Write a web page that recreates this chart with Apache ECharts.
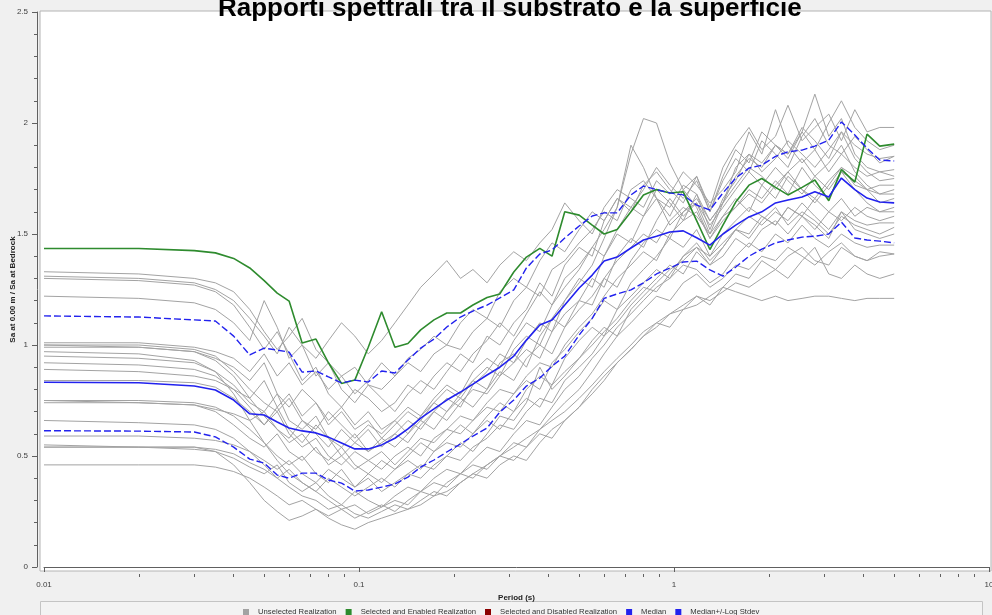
<!DOCTYPE html>
<html><head><meta charset="utf-8">
<script src="https://cdn.jsdelivr.net/npm/echarts@6/dist/echarts.min.js"></script>
<style>html,body{margin:0;padding:0;background:#f0f0f0}#c{width:992px;height:615px}</style>
</head><body><div id="c"></div><script>
const periods = [0.01,0.02,0.03,0.035,0.04,0.045,0.05,0.055,0.06,0.066,0.073,0.08,0.088,0.097,0.107,0.118,0.13,0.143,0.157,0.173,0.19,0.21,0.23,0.255,0.28,0.31,0.34,0.375,0.41,0.45,0.5,0.55,0.6,0.66,0.73,0.8,0.88,0.97,1.07,1.18,1.3,1.43,1.57,1.73,1.9,2.1,2.3,2.55,2.8,3.1,3.4,3.75,4.1,4.5,5.0];

const selectedEnabled = [1.435,1.435,1.425,1.415,1.39, 1.347,1.29,1.234,1.198,1.009, 1.027,0.92,0.827,0.842,0.99, 1.15,0.99,1.007,1.068,1.113, 1.144,1.144,1.18,1.214,1.23, 1.329,1.396,1.435,1.40,1.60, 1.585,1.54,1.50,1.52,1.60, 1.676,1.70,1.685,1.69,1.56, 1.43,1.54,1.644,1.72,1.75, 1.71,1.676,1.71,1.743,1.65, 1.79,1.734,1.95,1.896,1.905];
const median = [0.832,0.83,0.815,0.797,0.752, 0.69,0.685,0.653,0.626,0.613, 0.604,0.585,0.559,0.532,0.532, 0.55,0.58,0.622,0.671,0.712, 0.752,0.788,0.824,0.865,0.90, 0.95,1.022,1.09,1.113,1.18, 1.257,1.315,1.378,1.396,1.437, 1.473,1.49,1.509,1.514,1.483, 1.45,1.50,1.54,1.577,1.60, 1.64,1.653,1.667,1.69,1.667, 1.752,1.70,1.662,1.644,1.64];
const medianPlusStdev = [1.131,1.126,1.113,1.108,1.04, 0.955,0.986,0.977,0.968,0.878, 0.883,0.856,0.829,0.842,0.833, 0.883,0.874,0.932,0.986,1.027, 1.081,1.126,1.153,1.18,1.212, 1.248,1.347,1.41,1.428,1.482, 1.536,1.581,1.595,1.595,1.676, 1.716,1.70,1.685,1.676,1.63, 1.608,1.685,1.752,1.797,1.81, 1.85,1.87,1.878,1.896,1.923, 2.005,1.946,1.887,1.833,1.829];
const medianMinusStdev = [0.614,0.612,0.608,0.586,0.54, 0.486,0.468,0.414,0.40,0.423, 0.423,0.392,0.378,0.342,0.347, 0.36,0.374,0.405,0.45,0.482, 0.518,0.554,0.59,0.626,0.698, 0.752,0.815,0.851,0.905,0.95, 1.045,1.12,1.21,1.23,1.248, 1.28,1.32,1.347,1.374,1.378, 1.338,1.31,1.351,1.40,1.432, 1.46,1.473,1.486,1.49,1.50, 1.554,1.482,1.473,1.468,1.46];

const g01 = [1.33,1.32,1.30,1.28,1.24, 1.16,1.06,0.98,1.04,1.12, 0.98,0.92,0.86,0.90,0.82, 0.80,0.86,0.92,0.88,0.96, 1.00,0.98,1.06,1.12,1.08, 1.20,1.26,1.22,1.34,1.38, 1.46,1.52,1.60,1.56,1.70, 1.74,1.66,1.62,1.72,1.68, 1.56,1.64,1.80,1.86,1.78, 1.84,1.92,1.86,1.80,1.88, 1.96,1.84,1.78,1.74,1.75];
const g02 = [1.30,1.29,1.27,1.24,1.18, 1.08,0.98,1.06,0.96,0.84, 0.90,0.78,0.72,0.80,0.76, 0.70,0.74,0.82,0.78,0.86, 0.92,0.88,0.96,1.02,1.10, 1.04,1.14,1.24,1.18,1.30, 1.36,1.44,1.40,1.52,1.62, 1.58,1.66,1.54,1.60,1.64, 1.50,1.58,1.62,1.70,1.66, 1.74,1.68,1.80,1.72,1.66, 1.78,1.70,1.64,1.60,1.62];
const g03 = [1.22,1.21,1.19,1.16,1.10, 1.02,1.20,1.08,0.94,1.00, 0.86,0.92,0.80,0.74,0.82, 0.76,0.70,0.78,0.84,0.80, 0.88,0.96,0.92,1.04,1.00, 1.10,1.16,1.28,1.22,1.36, 1.44,1.40,1.56,1.66,1.60, 1.72,1.78,1.70,1.64,1.76, 1.60,1.74,1.84,1.78,1.92, 1.86,1.80,1.94,2.02,1.90, 1.86,1.94,1.88,1.82,1.85];
const g04 = [1.00,1.00,0.98,0.95,0.88, 0.80,0.74,0.70,0.76,0.66, 0.62,0.70,0.64,0.58,0.64, 0.60,0.66,0.72,0.68,0.76, 0.82,0.78,0.88,0.94,0.90, 1.02,1.10,1.06,1.18,1.26, 1.34,1.44,1.52,1.62,1.86, 2.02,2.00,1.82,1.70,1.62, 1.48,1.58,1.66,1.60,1.72, 1.80,1.74,1.68,1.76,1.82, 1.90,1.78,1.72,1.68,1.70];
const g05 = [1.00,0.99,0.97,0.93,0.86, 0.76,0.68,0.62,0.56,0.60, 0.52,0.48,0.54,0.46,0.42, 0.48,0.44,0.50,0.56,0.52, 0.58,0.64,0.60,0.68,0.74, 0.70,0.80,0.86,0.82,0.94, 1.02,1.08,1.04,1.16,1.22, 1.28,1.34,1.30,1.40,1.44, 1.36,1.40,1.48,1.44,1.52, 1.56,1.50,1.58,1.54,1.48, 1.60,1.52,1.50,1.48,1.50];
const g06 = [0.99,0.99,0.97,0.94,0.90, 0.84,0.92,0.78,0.72,0.80, 0.74,0.66,0.72,0.64,0.70, 0.62,0.66,0.60,0.68,0.74, 0.70,0.78,0.84,0.80,0.92, 0.96,0.90,1.04,1.12,1.08, 1.20,1.30,1.26,1.40,1.48, 1.44,1.56,1.66,1.58,1.64, 1.54,1.62,1.70,1.78,1.72, 1.66,1.76,1.70,1.64,1.72, 1.80,1.76,1.70,1.64,1.66];
const g07 = [0.97,0.96,0.93,0.88,0.78, 0.66,0.56,0.48,0.42,0.38, 0.34,0.30,0.26,0.28,0.24, 0.27,0.30,0.28,0.34,0.38, 0.36,0.42,0.46,0.44,0.50, 0.56,0.54,0.62,0.68,0.74, 0.80,0.88,0.96,1.04,1.10, 1.16,1.22,1.20,1.28,1.32, 1.26,1.30,1.36,1.34,1.40, 1.38,1.44,1.40,1.36,1.42, 1.46,1.40,1.38,1.42,1.41];
const g08 = [0.95,0.94,0.92,0.88,0.82, 0.74,0.70,0.78,0.66,0.62, 0.68,0.58,0.54,0.60,0.52, 0.56,0.60,0.56,0.64,0.70, 0.66,0.74,0.80,0.78,0.86, 0.92,0.98,0.94,1.06,1.14, 1.20,1.18,1.30,1.38,1.44, 1.50,1.46,1.56,1.62,1.58, 1.50,1.64,1.76,1.84,1.80, 1.90,1.86,1.96,2.13,1.94, 2.02,1.86,1.80,1.78,1.79];
const g09 = [0.92,0.91,0.89,0.86,0.80, 0.72,0.64,0.70,0.60,0.54, 0.58,0.50,0.46,0.52,0.48, 0.44,0.50,0.54,0.50,0.58, 0.62,0.60,0.66,0.72,0.70, 0.78,0.84,0.80,0.92,0.98, 1.06,1.12,1.20,1.16,1.28, 1.34,1.40,1.48,1.44,1.52, 1.40,1.50,1.56,1.62,1.58, 1.54,1.62,1.58,1.66,1.60, 1.56,1.62,1.58,1.56,1.58];
const g10 = [0.89,0.88,0.86,0.84,0.80, 0.76,0.84,0.72,0.78,0.68, 0.74,0.64,0.70,0.62,0.66, 0.58,0.64,0.70,0.66,0.74, 0.80,0.76,0.84,0.90,0.86, 0.98,1.04,1.00,1.12,1.20, 1.28,1.36,1.48,1.62,1.90, 1.80,1.66,1.58,1.70,1.76, 1.62,1.80,1.90,1.98,1.88, 1.94,2.08,1.92,1.98,2.04, 1.92,2.06,1.96,1.98,1.98];
const g11 = [0.75,0.75,0.74,0.72,0.68, 0.62,0.56,0.50,0.46,0.50, 0.42,0.38,0.44,0.36,0.40, 0.34,0.38,0.42,0.40,0.46, 0.50,0.48,0.54,0.58,0.64, 0.62,0.70,0.76,0.74,0.84, 0.90,0.96,1.04,1.10,1.18, 1.24,1.30,1.36,1.32,1.42, 1.36,1.44,1.52,1.48,1.56, 1.62,1.54,1.60,1.56,1.50, 1.58,1.54,1.52,1.50,1.53];
const g12 = [0.74,0.74,0.73,0.71,0.69, 0.66,0.70,0.62,0.58,0.66, 0.60,0.54,0.62,0.56,0.52, 0.58,0.54,0.60,0.66,0.62, 0.70,0.76,0.72,0.80,0.88, 0.84,0.94,1.00,0.96,1.08, 1.16,1.22,1.30,1.26,1.38, 1.46,1.52,1.48,1.60,1.66, 1.56,1.64,1.72,1.80,1.76, 1.70,1.78,1.84,1.76,1.70, 1.78,1.74,1.70,1.72,1.72];
const g13 = [0.66,0.65,0.64,0.62,0.58, 0.52,0.46,0.40,0.36,0.32, 0.30,0.26,0.28,0.24,0.22, 0.25,0.28,0.26,0.30,0.34, 0.32,0.38,0.42,0.40,0.46, 0.50,0.48,0.56,0.62,0.66, 0.72,0.78,0.84,0.92,0.98, 1.04,1.08,1.14,1.18,1.22, 1.20,1.24,1.28,1.26,1.30, 1.34,1.30,1.38,1.44,1.32, 1.30,1.36,1.32,1.30,1.32];
const g14 = [0.59,0.59,0.58,0.57,0.55, 0.52,0.48,0.44,0.48,0.42, 0.38,0.44,0.40,0.36,0.42, 0.38,0.44,0.48,0.44,0.52, 0.56,0.54,0.60,0.66,0.62, 0.70,0.76,0.72,0.82,0.88, 0.94,1.02,1.08,1.04,1.16, 1.22,1.28,1.34,1.38,1.44, 1.40,1.46,1.52,1.50,1.58, 1.54,1.62,1.58,1.52,1.60, 1.66,1.58,1.62,1.60,1.60];
const g15 = [0.55,0.54,0.54,0.52,0.46, 0.38,0.30,0.25,0.21,0.23, 0.26,0.22,0.19,0.17,0.20, 0.22,0.24,0.26,0.28,0.32, 0.34,0.38,0.42,0.46,0.50, 0.54,0.58,0.62,0.66,0.70, 0.76,0.82,0.88,0.94,1.00, 1.06,1.10,1.14,1.16,1.18, 1.22,1.26,1.24,1.22,1.20, 1.22,1.20,1.21,1.22,1.22, 1.21,1.20,1.21,1.21,1.21];
const g16 = [0.54,0.54,0.53,0.52,0.49, 0.45,0.42,0.46,0.38,0.34, 0.38,0.32,0.28,0.34,0.30, 0.27,0.32,0.36,0.34,0.40, 0.44,0.42,0.48,0.54,0.52, 0.60,0.66,0.64,0.72,0.80, 0.86,0.94,1.00,1.08,1.14, 1.20,1.26,1.30,1.36,1.34, 1.28,1.32,1.40,1.46,1.42, 1.50,1.46,1.54,1.48,1.44, 1.50,1.46,1.44,1.45,1.45];
const g17 = [0.46,0.46,0.46,0.45,0.43, 0.40,0.36,0.32,0.28,0.30, 0.26,0.23,0.26,0.22,0.25, 0.28,0.25,0.30,0.34,0.32, 0.38,0.42,0.40,0.46,0.50, 0.48,0.54,0.60,0.58,0.66, 0.72,0.80,0.86,0.92,0.98, 1.04,1.10,1.08,1.16,1.22, 1.18,1.26,1.32,1.30,1.38, 1.34,1.40,1.44,1.38,1.36, 1.44,1.40,1.38,1.40,1.41];
const g18 = [0.84,0.84,0.83,0.81,0.76, 0.70,0.64,0.72,0.62,0.56, 0.64,0.58,0.50,0.56,0.62, 0.54,0.60,0.66,0.62,0.70, 0.76,0.72,0.82,0.88,0.96, 0.92,1.02,1.10,1.06,1.20, 1.30,1.26,1.40,1.50,1.46, 1.58,1.70,1.64,1.56,1.68, 1.52,1.66,1.74,1.86,1.82, 1.90,1.86,1.98,1.92,1.84, 1.96,1.90,1.86,1.84,1.85];
const g19 = [1.01,1.01,0.99,0.97,0.94, 0.88,0.96,0.86,0.92,0.82, 0.88,0.80,0.86,0.78,0.84, 0.92,0.86,0.94,0.98,1.04, 1.00,1.10,1.16,1.12,1.24, 1.30,1.26,1.38,1.46,1.42, 1.52,1.60,1.56,1.66,1.62, 1.70,1.80,1.72,1.66,1.74, 1.60,1.76,1.88,1.82,1.96, 1.90,1.84,1.96,1.88,2.00, 2.10,1.98,1.92,1.88,1.90];
const g20 = [0.75,0.74,0.73,0.70,0.64, 0.58,0.54,0.60,0.52,0.48, 0.54,0.46,0.50,0.44,0.48, 0.52,0.46,0.52,0.58,0.56, 0.62,0.68,0.66,0.74,0.80, 0.78,0.86,0.92,0.90,1.00, 1.08,1.14,1.22,1.30,1.36, 1.42,1.38,1.50,1.56,1.60, 1.48,1.56,1.62,1.68,1.64, 1.72,1.78,1.70,1.66,1.74, 1.80,1.72,1.70,1.68,1.68];
const g21 = [0.54,0.54,0.54,0.53,0.51, 0.47,0.44,0.40,0.44,0.38, 0.34,0.40,0.36,0.32,0.36, 0.40,0.36,0.42,0.46,0.44, 0.50,0.56,0.52,0.60,0.68, 0.66,0.74,0.90,0.80,0.86, 0.94,1.00,1.06,1.12,1.20, 1.26,1.24,1.32,1.40,1.46, 1.38,1.44,1.52,1.58,1.54, 1.60,1.56,1.64,1.58,1.52, 1.60,1.56,1.54,1.55,1.55];
const g22 = [1.31,1.30,1.28,1.25,1.20, 1.12,1.04,0.96,1.08,1.00, 0.94,1.02,1.10,1.04,0.96, 1.02,1.10,1.18,1.26,1.32, 1.38,1.30,1.34,1.28,1.36, 1.42,1.38,1.46,1.52,1.64, 1.56,1.50,1.62,1.70,1.66, 1.62,1.74,1.68,1.78,1.72, 1.64,1.70,1.78,1.96,1.86, 2.06,1.90,1.82,1.88,1.78, 1.86,1.80,1.76,1.78,1.76];
const unselected = [g01,g02,g03,g04,g05,g06,g07,g08,g09,g10,g11,g12,g13,g14,g15,g16,g17,g18,g19,g20,g21,g22];

const xMajorTicks = [0.01,0.1,1,10];
const xMajorLabels = ['0.01','0.1','1','10'];
const xMinorTicks = [0.02,0.03,0.04,0.05,0.06,0.07,0.08,0.09,0.2,0.3,0.4,0.5,0.6,0.7,0.8,0.9,2,3,4,5,6,7,8,9];
const legendNames = ['Unselected Realization','Selected and Enabled Realization','Selected and Disabled Realization','Median','Median+/-Log Stdev'];

const GREY = '#a3a3a3', GREEN = '#2e8b2e', RED = '#8b0000', BLUE = '#2222ee';
const pairs = arr => periods.map((p, i) => [p, arr[i]]);
const font = 'Liberation Sans';

const series = [];
unselected.forEach(arr => series.push({
  name: legendNames[0], type: 'line', data: pairs(arr), symbol: 'none', silent: true,
  color: GREY, lineStyle: {color: GREY, width: 1}, z: 2
}));
series.push({name: legendNames[1], type: 'line', data: pairs(selectedEnabled), symbol: 'none', color: GREEN, lineStyle: {color: GREEN, width: 1.6}, z: 3});
series.push({name: legendNames[2], type: 'line', data: [], symbol: 'none', color: RED});
series.push({name: legendNames[3], type: 'line', data: pairs(median), symbol: 'none', color: BLUE, lineStyle: {color: BLUE, width: 1.6}, z: 4});
series.push({name: legendNames[4], type: 'line', data: pairs(medianPlusStdev), symbol: 'none', color: BLUE, lineStyle: {color: BLUE, width: 1.4, type: [7, 3]}, z: 4});
series.push({name: legendNames[4], type: 'line', data: pairs(medianMinusStdev), symbol: 'none', color: BLUE, lineStyle: {color: BLUE, width: 1.4, type: [7, 3]}, z: 4});

const chart = echarts.init(document.getElementById('c'), null, {renderer: 'canvas'});
chart.setOption({
  backgroundColor: '#f0f0f0',
  animation: false,
  textStyle: {fontFamily: font},
  title: {
    text: 'Rapporti spettrali tra il substrato e la superficie',
    left: 213, top: -9,
    textStyle: {fontFamily: font, fontSize: 26, fontWeight: 'bold', color: '#000'}
  },
  graphic: [
    {type: 'rect', z: -100, shape: {x: 40, y: 11, width: 951, height: 560}, style: {fill: '#ffffff', stroke: '#b4b4b4', lineWidth: 1}},
    {type: 'rect', z: -100, shape: {x: 40.5, y: 601.5, width: 942, height: 14}, style: {fill: '#f3f3f3', stroke: '#c4c4c4', lineWidth: 1}}
  ],
  legend: {
    data: legendNames, left: 238, top: 603, icon: 'rect', itemWidth: 6, itemHeight: 6, itemGap: 9,
    selectedMode: false,
    textStyle: {fontFamily: font, fontSize: 7.7, color: '#333', padding: [0, 0, 0, 4]}
  },
  grid: {left: 44, right: 3, top: 12, bottom: 48, containLabel: false, outerBoundsMode: 'none'},
  xAxis: [{
    type: 'log', logBase: 10, min: 0.01, max: 10, offset: 7, position: 'bottom',
    axisLine: {show: true, lineStyle: {color: '#606060', width: 1}},
    axisTick: {show: true, length: 5, lineStyle: {color: '#606060'}, customValues: xMajorTicks},
    axisLabel: {fontFamily: font, fontSize: 8, color: '#404040', margin: 7, customValues: xMajorTicks,
      formatter: v => xMajorLabels[Math.round(Math.log10(v)) + 2]},
    splitLine: {show: false}, minorTick: {show: false},
    name: 'Period (s)', nameLocation: 'middle', nameGap: 20, nameMoveOverlap: false,
    nameTextStyle: {fontFamily: font, fontSize: 8, fontWeight: 'bold', color: '#222'}
  }, {
    type: 'log', logBase: 10, min: 0.01, max: 10, offset: 7, position: 'bottom',
    axisLine: {show: false},
    axisTick: {show: true, length: 3, lineStyle: {color: '#606060'}, customValues: xMinorTicks},
    axisLabel: {show: false}, splitLine: {show: false}
  }],
  yAxis: {
    type: 'value', min: 0, max: 2.5, interval: 0.5, offset: 7,
    axisLine: {show: true, lineStyle: {color: '#606060', width: 1}},
    axisTick: {show: true, length: 5, lineStyle: {color: '#606060'}},
    minorTick: {show: true, splitNumber: 5, length: 3, lineStyle: {color: '#606060'}},
    axisLabel: {fontFamily: font, fontSize: 8, color: '#404040', margin: 9, formatter: v => String(v)},
    splitLine: {show: false},
    name: 'Sa at 0.00 m / Sa at Bedrock', nameLocation: 'middle', nameGap: 20, nameMoveOverlap: false,
    nameTextStyle: {fontFamily: font, fontSize: 8, fontWeight: 'bold', color: '#222'}
  },
  series: series
});
</script></body></html>
